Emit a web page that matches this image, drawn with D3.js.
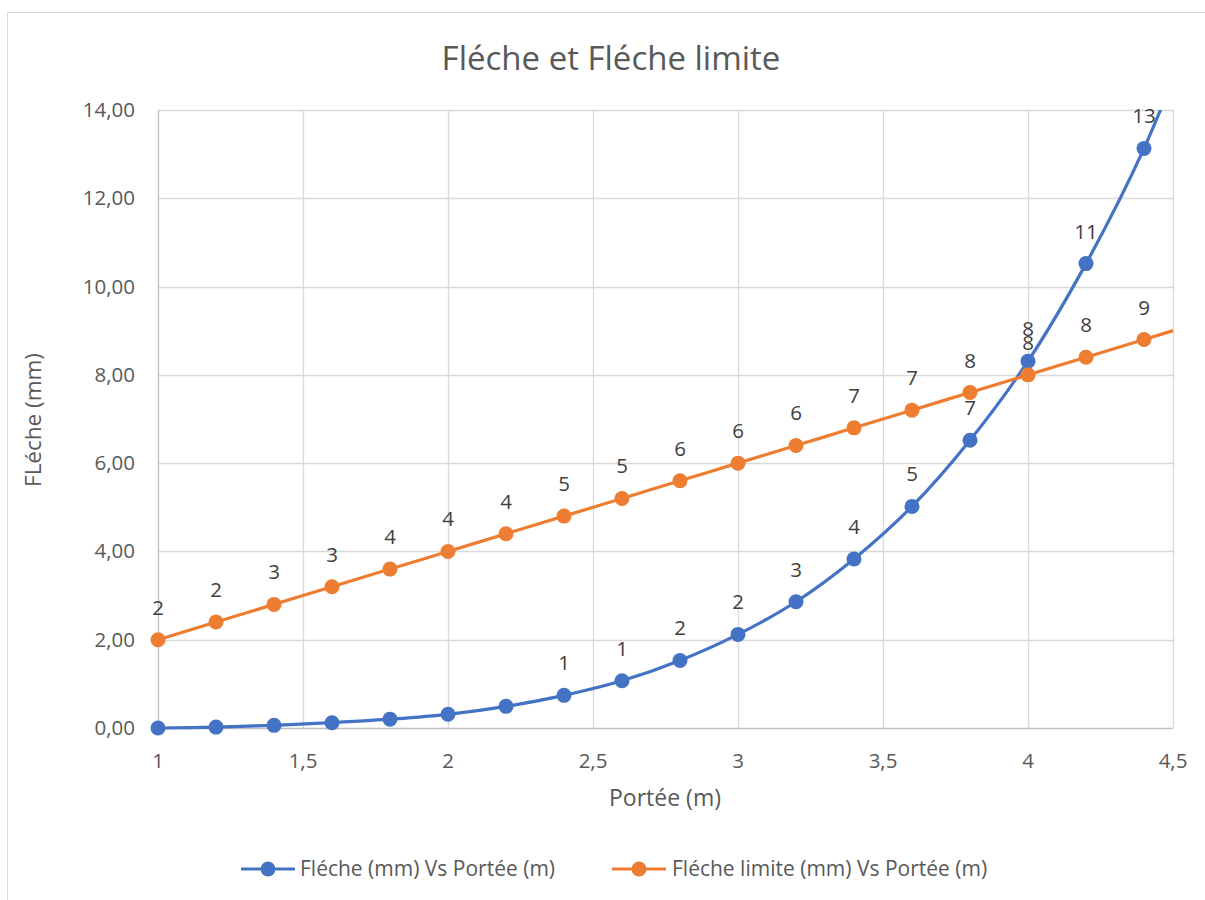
<!DOCTYPE html>
<html><head><meta charset="utf-8">
<script src="https://cdn.jsdelivr.net/npm/d3@7"></script>
<style>body{margin:0;background:#fff}svg{display:block}text{font-family:"Open Sans",sans-serif}</style>
</head><body><svg id="c" width="1205" height="900"></svg>
<script>
const portee = [1,1.2,1.4,1.6,1.8,2,2.2,2.4,2.6,2.8,3,3.2,3.4,3.6,3.8,4,4.2,4.4,4.6];
const fleche = [0.00,0.02,0.06,0.12,0.20,0.31,0.49,0.74,1.07,1.53,2.12,2.86,3.83,5.02,6.52,8.31,10.52,13.13,16.40];
const flecheLimite = [2.0,2.4,2.8,3.2,3.6,4.0,4.4,4.8,5.2,5.6,6.0,6.4,6.8,7.2,7.6,8.0,8.4,8.8,9.2];
const xTicks = [1,1.5,2,2.5,3,3.5,4,4.5];
const yTicks = [0,2,4,6,8,10,12,14];
const seriesNames = ["Fléche (mm) Vs Portée (m)","Fléche limite (mm) Vs Portée (m)"];
const colors = ["#4472C4","#ED7D31"];

const svg = d3.select("#c");
const x = d3.scaleLinear().domain([1,4.5]).range([158,1173]);
const y = d3.scaleLinear().domain([0,14]).range([728,110]);
const fmtY = v => d3.format(".2f")(v).replace(".",",");
const fmtX = v => String(v).replace(".",",");

// chart border
svg.append("rect").attr("x",7.5).attr("y",12.5).attr("width",1205).attr("height",900)
  .attr("fill","none").attr("stroke","#d9d9d9");

svg.append("text").attr("x",611).attr("y",70).attr("text-anchor","middle")
  .attr("font-size",33).attr("fill","#595959").text("Fléche et Fléche limite");

// gridlines
const g = svg.append("g");
g.selectAll(".hg").data(yTicks.slice(1)).join("line")
  .attr("x1",x(1)).attr("x2",x(4.5)).attr("y1",d=>Math.round(y(d))+0.5).attr("y2",d=>Math.round(y(d))+0.5)
  .attr("stroke","#d9d9d9").attr("stroke-width",1.3);
g.selectAll(".vg").data(xTicks.slice(1)).join("line")
  .attr("y1",y(0)).attr("y2",y(14)).attr("x1",d=>Math.round(x(d))+0.5).attr("x2",d=>Math.round(x(d))+0.5)
  .attr("stroke","#d9d9d9").attr("stroke-width",1.3);
// axes lines
g.append("line").attr("x1",x(1)).attr("x2",x(4.5)).attr("y1",y(0)+0.5).attr("y2",y(0)+0.5).attr("stroke","#bfbfbf").attr("stroke-width",1.3);
g.append("line").attr("x1",x(1)+0.5).attr("x2",x(1)+0.5).attr("y1",y(0)).attr("y2",y(14)).attr("stroke","#bfbfbf").attr("stroke-width",1.3);

// tick labels
svg.append("g").selectAll("text").data(yTicks).join("text")
  .attr("x",135).attr("y",d=>y(d)+7).attr("text-anchor","end").attr("font-size",20.5).attr("fill","#595959").text(fmtY);
svg.append("g").selectAll("text").data(xTicks).join("text")
  .attr("x",d=>x(d)).attr("y",768).attr("text-anchor","middle").attr("font-size",20.5).attr("fill","#595959").text(fmtX);

svg.append("text").attr("x",665).attr("y",806).attr("text-anchor","middle").attr("font-size",23).attr("fill","#595959").text("Portée (m)");
svg.append("text").attr("transform","translate(41,420) rotate(-90)").attr("text-anchor","middle").attr("font-size",22.5).attr("fill","#595959").text("FLéche (mm)");

svg.append("defs").append("clipPath").attr("id","plot").append("rect")
  .attr("x",x(1)-10).attr("y",y(14)).attr("width",x(4.5)-x(1)+10).attr("height",y(0)-y(14)+10);

const plot = svg.append("g").attr("clip-path","url(#plot)");
const line = d3.line().x(d=>x(d[0])).y(d=>y(d[1])).curve(d3.curveCatmullRom.alpha(0.5));
const datasets = [fleche, flecheLimite].map(vals => portee.map((p,i)=>[p,vals[i]]));

datasets.forEach((data,si)=>{
  plot.append("path").datum(data).attr("d",line).attr("fill","none")
    .attr("stroke",colors[si]).attr("stroke-width",3.2);
});
datasets.forEach((data,si)=>{
  plot.selectAll(".m"+si).data(data.filter(d=>d[0]<=4.5)).join("circle")
    .attr("cx",d=>x(d[0])).attr("cy",d=>y(d[1])).attr("r",7.5).attr("fill",colors[si]);
});
// data labels
datasets.forEach((data,si)=>{
  svg.append("g").selectAll("text").data(data.filter(d=>d[0]<=4.5 && Math.round(d[1])>0)).join("text")
    .attr("x",d=>x(d[0])).attr("y",d=>y(d[1])-25).attr("text-anchor","middle")
    .attr("font-size",20.5).attr("fill","#404040").text(d=>Math.round(d[1]));
});

// legend
const leg = [[241,300],[612,672]];
leg.forEach((l,i)=>{
  svg.append("line").attr("x1",l[0]).attr("x2",l[0]+54).attr("y1",869).attr("y2",869).attr("stroke",colors[i]).attr("stroke-width",3.2);
  svg.append("circle").attr("cx",l[0]+27).attr("cy",869).attr("r",7.5).attr("fill",colors[i]);
  svg.append("text").attr("x",l[1]).attr("y",876).attr("font-size",21).attr("fill","#595959").text(seriesNames[i]);
});
</script></body></html>
